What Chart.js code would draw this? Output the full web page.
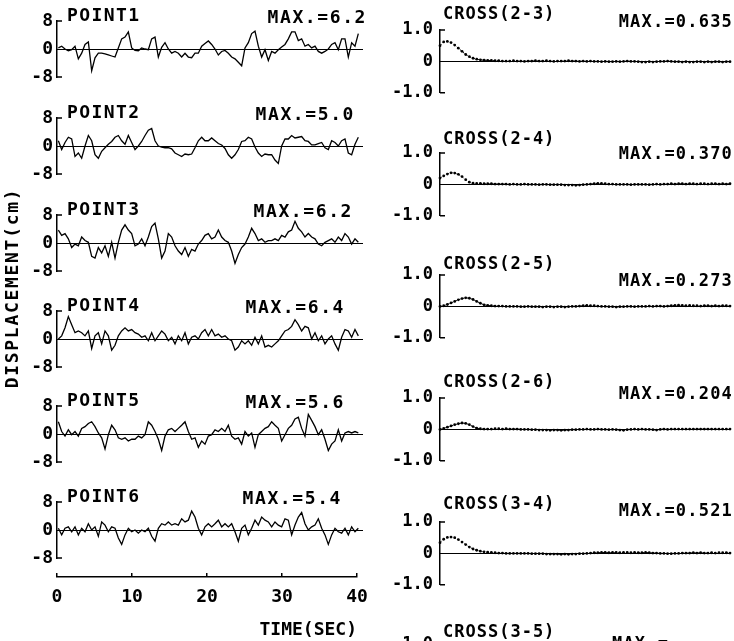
<!DOCTYPE html>
<html><head><meta charset="utf-8">
<script src="https://cdn.jsdelivr.net/npm/chart.js@4.4.1/dist/chart.umd.min.js"></script>
<style>
html,body{margin:0;padding:0;background:#fff;width:734px;height:641px;overflow:hidden;position:relative;}
canvas{position:absolute;}
</style></head><body>
<script>
// ---------- data ----------
const TIME_TICKS = [0, 10, 20, 30, 40];
const LEFT_Y_TICKS = [-8, 0, 8];
const RIGHT_Y_TICKS = [-1, 0, 1];
const SAMPLE_START = 0.18;   // s, first sample of each record
const SAMPLE_STEP = 0.4444;  // s, sample spacing
const POINT_NAMES = ['POINT1', 'POINT2', 'POINT3', 'POINT4', 'POINT5', 'POINT6'];
const POINT_MAX = ['6.2', '5.0', '6.2', '6.4', '5.6', '5.4'];

const point1 = [0.3,0.8,0.0,-0.5,-0.2,0.8,-2.8,-1.2,1.3,2.0,
 -6.2,-2.5,-1.2,-1.2,-1.4,-1.7,-2.0,-2.3,0.3,2.9,
 3.4,4.9,0.3,-0.4,-0.5,0.3,0.0,-0.2,2.9,3.4,
 -2.3,0.5,1.8,0.0,-1.2,-0.7,-1.2,-2.3,-1.2,-2.3,
 -2.5,-1.2,-1.2,0.8,1.6,2.3,1.3,0.0,-1.7,-0.7,
 -0.4,-1.2,-2.3,-2.8,-3.8,-4.8,0.3,1.8,4.4,5.1,
 0.8,-2.3,-0.2,-3.3,-0.7,-1.2,-0.2,0.6,1.3,2.9,
 4.9,4.9,2.4,2.9,0.8,1.3,0.3,0.8,-0.7,-1.2,
 -0.7,0.0,1.3,1.8,-0.2,2.9,2.9,-2.3,1.8,0.8,
 4.4,2.4];
const point2 = [1.5,-1.0,1.0,2.5,2.0,-3.0,-2.0,-3.5,0.0,3.0,
 1.5,-2.5,-3.5,-1.5,-0.5,0.5,1.3,2.5,3.0,1.5,
 0.5,3.0,1.0,-1.0,0.0,1.3,3.0,4.5,5.0,1.5,
 0.0,-0.3,-0.5,-0.5,-0.8,-2.0,-2.5,-3.0,-2.3,-2.5,
 -2.3,-0.5,1.5,2.5,1.5,1.5,2.3,1.5,0.7,0.3,
 -0.7,-2.5,-3.5,-2.5,-1.0,1.3,1.5,2.5,2.0,-0.3,
 -2.0,-3.0,-2.3,-2.5,-2.5,-4.0,-5.0,0.0,2.0,2.0,
 3.0,2.3,2.5,2.7,1.5,1.3,0.3,0.3,0.7,1.0,
 -0.5,-1.0,1.5,1.0,0.0,1.5,2.0,-2.0,-2.5,0.5,
 2.5,3.0];
const point3 = [3.7,2.2,2.7,1.2,-1.3,-0.3,-0.8,1.7,0.7,0.2,
 -3.8,-4.3,-1.3,-2.8,-0.8,-3.8,0.2,-4.3,0.2,3.7,
 5.2,3.7,2.7,-0.8,-0.3,1.2,-0.8,1.7,4.7,5.7,
 1.2,-4.3,-2.3,2.7,1.7,-0.8,-2.3,-3.3,-1.3,-3.8,
 -1.8,-2.3,-0.3,0.7,2.2,2.7,1.2,1.7,3.7,1.7,
 0.7,0.2,-2.3,-5.8,-3.3,-1.3,-0.3,1.7,4.2,2.7,
 0.7,1.2,0.2,0.7,0.7,1.2,0.7,2.2,1.7,3.2,
 3.7,6.2,4.2,3.2,1.7,2.7,1.7,1.2,-0.3,-0.8,
 0.2,0.7,1.2,0.2,1.7,0.7,2.7,1.7,-0.3,1.2,
 0.2,3.2];
const point4 = [0.0,0.9,3.2,6.4,4.1,1.8,2.3,1.8,0.9,2.3,
 -2.7,0.9,1.8,-1.4,2.3,0.9,-3.2,-1.8,0.9,2.3,
 3.2,2.3,2.7,1.8,1.4,0.5,0.9,-0.5,1.8,-0.5,
 0.9,2.3,1.4,-0.5,0.5,-1.4,0.9,-0.5,1.8,-1.4,
 0.5,0.9,0.0,1.8,2.7,0.9,2.7,0.9,1.4,0.5,
 0.9,0.0,-0.5,-3.2,-2.3,-0.5,-1.4,-0.5,-1.8,0.5,
 -1.4,0.9,-2.3,-1.8,-2.3,-1.4,-0.5,0.9,2.3,2.7,
 3.6,5.5,4.1,2.3,3.6,3.2,0.0,1.8,-0.5,0.9,
 -1.4,0.0,0.9,-1.4,-3.2,0.5,2.7,2.3,0.5,2.7,
 0.9,0.0];
const point5 = [3.5,0.7,-0.6,1.2,-0.2,0.7,-0.6,1.6,2.1,3.0,
 3.5,2.1,0.3,-1.1,-4.3,-0.2,2.5,1.2,-1.1,-1.5,
 -1.1,-2.0,-1.5,-1.5,-0.6,-1.1,-0.2,3.5,2.5,0.7,
 -1.5,-4.7,-0.6,1.2,1.6,0.7,1.6,2.5,3.5,0.7,
 -1.5,-1.1,-3.8,-2.0,-2.9,-0.6,-0.2,1.2,0.7,1.6,
 0.7,2.5,-0.6,-1.5,-1.1,-2.9,0.7,-0.6,0.3,-3.8,
 -0.2,0.7,1.6,2.1,3.5,2.5,1.6,-2.0,-0.2,1.6,
 2.5,4.3,4.8,1.6,-0.6,5.6,3.9,2.1,-0.2,1.2,
 -1.5,-4.7,-2.9,-2.0,1.2,-2.0,0.3,0.7,0.3,0.7,
 0.3,2.5];
const point6 = [0.5,-1.4,0.5,0.9,-0.5,0.9,-1.4,0.5,-0.5,1.8,
 0.0,0.9,-1.8,2.3,1.4,-0.5,0.9,0.5,-2.3,-4.1,
 -1.4,0.5,-0.5,0.0,-0.9,0.0,-0.5,0.5,-1.8,-3.2,
 0.5,1.8,1.4,2.3,1.4,1.8,1.4,3.2,2.3,2.8,
 5.4,3.7,0.5,-1.4,0.9,1.8,0.9,1.8,2.8,0.9,
 1.8,0.9,1.8,-0.5,-3.2,0.5,1.4,-1.4,0.5,2.8,
 1.4,3.7,2.8,2.3,0.9,2.3,1.4,0.9,3.2,2.8,
 -1.4,1.4,3.7,5.0,1.8,0.0,0.9,1.4,3.2,0.5,
 -1.4,-4.1,-1.4,0.5,-0.5,-0.9,0.5,-1.4,0.9,-0.5,
 0.5,2.8];

const CROSS_NAMES = ['CROSS(2-3)', 'CROSS(2-4)', 'CROSS(2-5)', 'CROSS(2-6)', 'CROSS(3-4)', 'CROSS(3-5)'];
const CROSS_MAX = ['0.635', '0.370', '0.273', '0.204', '0.521', ''];
const cross23 = [0.50,0.62,0.635,0.60,0.52,0.42,0.32,0.22,0.15,0.10,
 0.07,0.05,0.04,0.03,0.03,0.02,0.02,0.01,0.01,0.01,
 0.02,0.01,0.01,0.00,0.01,0.01,0.02,0.01,0.01,0.02,
 0.01,0.00,0.01,0.01,0.01,0.02,0.01,0.01,0.00,0.01,
 0.00,0.01,0.00,0.00,-0.01,0.00,-0.01,-0.01,0.00,-0.01,
 0.00,0.01,0.00,0.00,-0.01,-0.02,-0.02,-0.01,-0.02,-0.01,
 0.00,0.00,0.01,0.00,-0.01,-0.01,-0.02,-0.01,-0.02,-0.02,
 -0.01,-0.01,-0.02,-0.01,-0.02,-0.01,-0.01,-0.02,-0.01,-0.01];
const cross24 = [0.20,0.27,0.33,0.37,0.36,0.32,0.25,0.15,0.07,0.04,
 0.03,0.03,0.02,0.02,0.02,0.01,0.01,0.01,0.01,0.00,
 0.01,0.00,0.00,0.01,0.00,0.00,0.00,-0.01,0.00,0.00,
 -0.01,-0.01,-0.01,-0.01,-0.02,-0.02,-0.02,-0.03,-0.02,-0.01,
 0.00,0.01,0.02,0.03,0.03,0.02,0.01,0.01,0.00,0.00,
 0.00,0.00,-0.01,0.00,0.00,0.00,0.00,-0.01,0.00,0.01,
 0.00,0.01,0.01,0.02,0.01,0.02,0.02,0.01,0.02,0.02,
 0.01,0.02,0.02,0.01,0.02,0.02,0.01,0.02,0.01,0.02];
const cross25 = [0.00,0.02,0.06,0.11,0.16,0.21,0.25,0.273,0.26,0.22,
 0.16,0.10,0.05,0.03,0.02,0.01,0.01,0.01,0.00,0.00,
 0.00,0.00,-0.01,-0.01,0.00,-0.01,-0.01,-0.01,-0.02,-0.01,
 -0.01,-0.02,-0.01,-0.01,-0.02,-0.01,0.00,0.00,0.01,0.02,
 0.03,0.02,0.02,0.01,0.00,0.00,-0.01,-0.01,-0.02,-0.01,
 -0.01,0.00,0.00,-0.01,0.00,0.00,0.00,0.01,0.00,0.01,
 0.01,0.00,0.01,0.02,0.03,0.04,0.03,0.02,0.03,0.02,
 0.02,0.01,0.02,0.02,0.01,0.02,0.01,0.02,0.02,0.01];
const cross26 = [0.00,0.03,0.07,0.11,0.15,0.18,0.204,0.19,0.15,0.09,
 0.04,0.02,0.01,0.01,0.01,0.02,0.02,0.01,0.02,0.01,
 0.01,0.01,0.00,0.00,0.00,-0.01,-0.01,-0.02,-0.02,-0.02,
 -0.03,-0.02,-0.02,-0.03,-0.02,-0.02,-0.01,-0.01,0.00,0.00,
 0.01,0.00,0.00,0.01,0.00,0.00,-0.01,0.00,-0.01,-0.02,
 -0.03,-0.01,0.00,0.01,0.00,0.01,0.00,0.00,-0.01,-0.02,
 0.00,0.01,0.00,0.01,0.01,0.01,0.01,0.01,0.01,0.01,
 0.01,0.01,0.01,0.01,0.01,0.01,0.01,0.01,0.01,0.01];
const cross34 = [0.34,0.45,0.51,0.521,0.50,0.44,0.36,0.28,0.20,0.14,
 0.10,0.07,0.05,0.04,0.03,0.02,0.01,0.01,0.00,0.00,
 0.00,0.00,0.00,0.00,0.00,-0.01,-0.01,-0.01,-0.01,-0.02,
 -0.02,-0.02,-0.02,-0.03,-0.02,-0.03,-0.02,-0.02,-0.01,-0.01,
 0.00,0.01,0.02,0.02,0.03,0.03,0.02,0.03,0.03,0.02,
 0.03,0.03,0.02,0.03,0.02,0.02,0.03,0.02,0.01,0.01,
 0.00,0.00,-0.01,-0.01,0.00,0.00,0.01,0.01,0.01,0.02,
 0.01,0.02,0.01,0.01,0.02,0.01,0.02,0.02,0.02,0.01];
const cross35 = [];   // panel cut off at the bottom of the page

// ---------- layout (page pixels) ----------
const LEFT_ZERO = [49, 146, 243, 339, 434, 530];
const LEFT_MAX_RIGHT = [367, 355, 353, 345, 345, 342];
const RIGHT_TOP = [30, 153, 275, 398, 522, 645];
const RIGHT_TITLE_DY = [-15, -13, -10, -15, -17, -12];
const RIGHT_MAX_DY = [-7, 2, 7, -3, -10, 0];

const FAMILY = "'DejaVu Sans Mono', 'Liberation Mono', monospace";
const BIG = 'bold 18px ' + FAMILY;
const MID = 'bold 17px ' + FAMILY;
const tickFont = size => ({family: FAMILY, size: size, weight: 'bold'});

const decoPlugin = {
  id: 'deco',
  beforeDatasetsDraw(chart, args, o) {
    const {ctx, chartArea: a} = chart;
    ctx.save();
    ctx.strokeStyle = '#000';
    if (o.bracket) {
      ctx.lineWidth = 1.5;
      ctx.beginPath();
      ctx.moveTo(a.left, a.top); ctx.lineTo(a.left + 5, a.top);
      ctx.moveTo(a.left, a.bottom); ctx.lineTo(a.left + 5, a.bottom);
      ctx.stroke();
    }
    if (o.zeroLine) {
      const y = Math.round(chart.scales.y.getPixelForValue(0)) + 0.5;
      ctx.lineWidth = 1.2;
      ctx.beginPath(); ctx.moveTo(a.left, y); ctx.lineTo(a.right + (o.zeroExtra || 0), y); ctx.stroke();
    }
    ctx.restore();
  },
  afterDraw(chart, args, o) {
    const ctx = chart.ctx;
    (o.texts || []).forEach(t => {
      ctx.save();
      ctx.fillStyle = '#000';
      ctx.font = t.font;
      if ('letterSpacing' in ctx) ctx.letterSpacing = t.spacing || '0px';
      ctx.textAlign = t.align || 'left';
      ctx.textBaseline = 'middle';
      ctx.translate(t.x, t.y);
      if (t.rot) ctx.rotate(t.rot);
      ctx.fillText(t.text, 0, 0);
      ctx.restore();
    });
  }
};
Chart.register(decoPlugin);

function addCanvas(left, top, w, h) {
  const c = document.createElement('canvas');
  c.width = w; c.height = h;
  c.style.left = left + 'px'; c.style.top = top + 'px';
  c.style.width = w + 'px'; c.style.height = h + 'px';
  document.body.appendChild(c);
  return c;
}

const baseOpts = () => ({
  responsive: false, animation: false, devicePixelRatio: 1, events: [],
  plugins: {legend: {display: false}, tooltip: {enabled: false}, title: {display: false}}
});

// ---------- left column: displacement records ----------
const POINT_SERIES = [point1, point2, point3, point4, point5, point6];
POINT_SERIES.forEach((vals, i) => {
  const cTop = LEFT_ZERO[i] - 50;
  const cv = addCanvas(0, cTop, 380, 100);
  const o = baseOpts();
  o.layout = {padding: {left: 0, right: 23, top: 22, bottom: 22}};
  o.plugins.deco = {
    bracket: true, zeroLine: true, zeroExtra: 6,
    texts: [
      {text: POINT_NAMES[i], x: 67, y: LEFT_ZERO[i] - 33 - cTop, font: BIG, spacing: '1.4px', align: 'left'},
      {text: 'MAX.=' + POINT_MAX[i], x: LEFT_MAX_RIGHT[i], y: LEFT_ZERO[i] - 31 - cTop, font: BIG, spacing: '1.6px', align: 'right'}
    ]
  };
  o.scales = {
    x: {type: 'linear', min: 0, max: 40, display: false},
    y: {
      min: -8, max: 8,
      afterBuildTicks: s => { s.ticks = LEFT_Y_TICKS.map(v => ({value: v})); },
      afterFit: s => { s.width = 57; },
      ticks: {font: tickFont(18), color: '#000', padding: 4},
      grid: {display: false, drawTicks: false},
      border: {display: true, color: '#000', width: 1.5}
    }
  };
  new Chart(cv, {
    type: 'line',
    data: {datasets: [{
      data: vals.map((v, k) => ({x: SAMPLE_START + k * SAMPLE_STEP, y: v})),
      borderColor: '#000', borderWidth: 1.3, pointRadius: 0, tension: 0, clip: false, fill: false
    }]},
    options: o
  });
});

// ---------- time axis + vertical label ----------
(function () {
  const cv = addCanvas(0, 0, 380, 641);
  const o = baseOpts();
  o.layout = {padding: {left: 57, right: 23, top: 573, bottom: 0}};
  o.plugins.deco = {
    texts: [{text: 'DISPLACEMENT(cm)', x: 13, y: 288, font: BIG, spacing: '1.7px', align: 'center', rot: -Math.PI / 2}]
  };
  o.scales = {
    x: {
      type: 'linear', position: 'bottom', min: 0, max: 40,
      afterBuildTicks: s => { s.ticks = TIME_TICKS.map(v => ({value: v})); },
      afterFit: s => { s.height = 64; },
      ticks: {font: tickFont(18), color: '#000', padding: 10, maxRotation: 0, autoSkip: false},
      grid: {display: true, drawOnChartArea: true, drawTicks: false, color: '#000', lineWidth: 1.5},
      border: {display: true, color: '#000', width: 1.5},
      title: {display: true, text: 'TIME(SEC)', align: 'end', color: '#000', font: tickFont(18), padding: {top: 0, bottom: 0}}
    },
    y: {display: false, min: 0, max: 1}
  };
  new Chart(cv, {type: 'line', data: {datasets: []}, options: o});
})();

// ---------- right column: cross correlations ----------
const CROSS_SERIES = [cross23, cross24, cross25, cross26, cross34, cross35];
CROSS_SERIES.forEach((vals, j) => {
  const cTop = RIGHT_TOP[j] - 30;
  const cv = addCanvas(380, cTop, 354, 110);
  const o = baseOpts();
  o.layout = {padding: {left: 0, right: 0, top: 30, bottom: 10}};
  const texts = [{text: CROSS_NAMES[j], x: 63, y: 30 + RIGHT_TITLE_DY[j], font: MID, spacing: '1px', align: 'left'}];
  texts.push(CROSS_MAX[j]
    ? {text: 'MAX.=' + CROSS_MAX[j], x: 353, y: 30 + RIGHT_MAX_DY[j], font: MID, spacing: '1.2px', align: 'right'}
    : {text: 'MAX.=', x: 232, y: 30 + RIGHT_MAX_DY[j], font: MID, spacing: '1.2px', align: 'left'});
  o.plugins.deco = {bracket: true, zeroLine: true, zeroExtra: 0, texts: texts};
  o.scales = {
    x: {type: 'linear', min: 0, max: 79, display: false},
    y: {
      min: -1, max: 1,
      afterBuildTicks: s => { s.ticks = RIGHT_Y_TICKS.map(v => ({value: v})); },
      afterFit: s => { s.width = 60; },
      ticks: {font: tickFont(17), color: '#000', padding: 7, callback: v => v === 0 ? '0' : v.toFixed(1)},
      grid: {display: false, drawTicks: false},
      border: {display: true, color: '#000', width: 1.5}
    }
  };
  new Chart(cv, {
    type: 'line',
    data: {datasets: vals.length ? [{
      data: vals.map((v, k) => ({x: k, y: v})),
      borderColor: '#000', borderWidth: 1, borderDash: [2, 2],
      pointRadius: 1.4, pointBackgroundColor: '#000', pointBorderWidth: 0,
      tension: 0, clip: false, fill: false
    }] : []},
    options: o
  });
});
</script>
</body></html>
